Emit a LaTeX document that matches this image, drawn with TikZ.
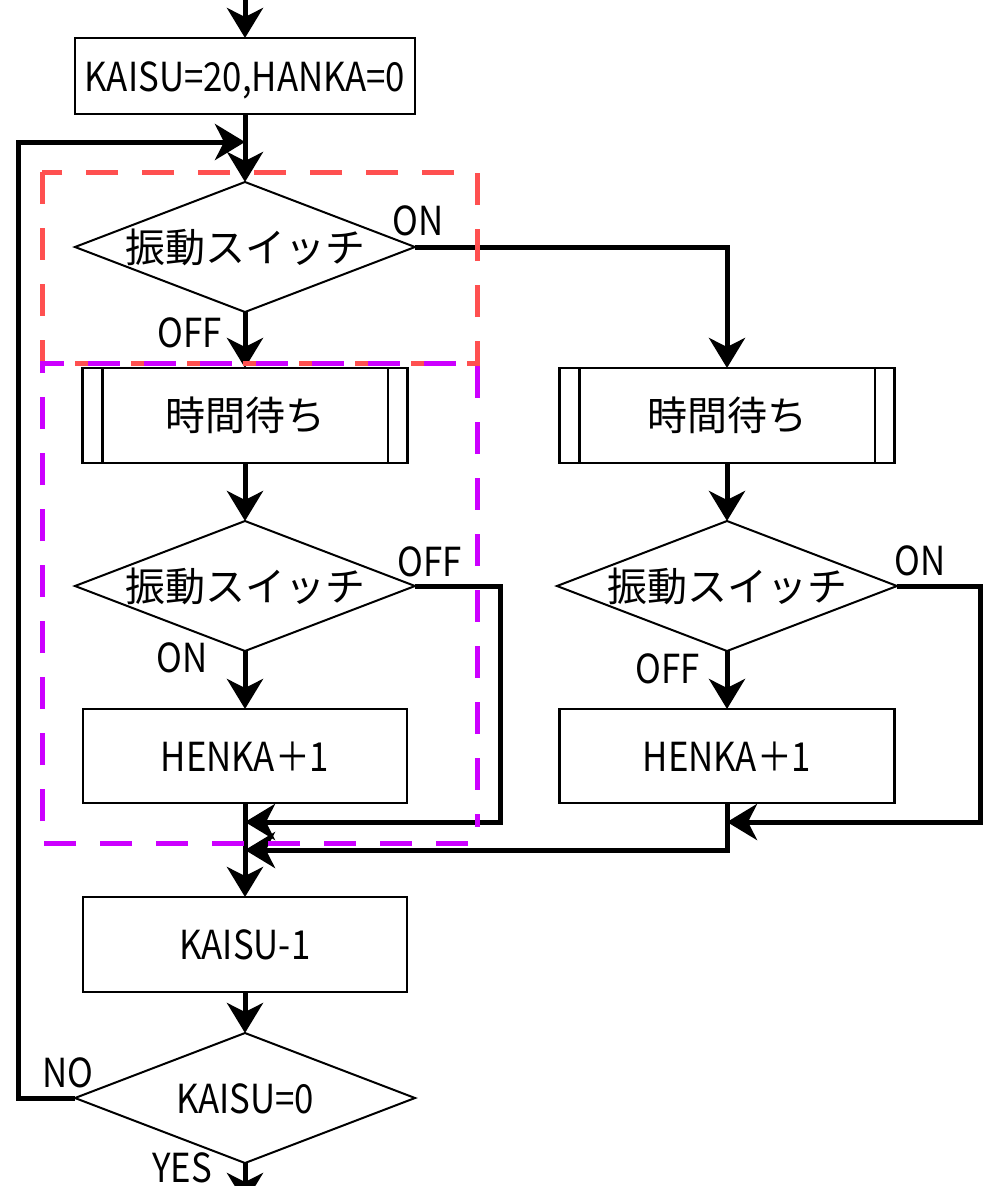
\documentclass[tikz,border=0pt]{standalone}
\usepackage{fontspec}
\setmainfont{Noto Sans CJK JP}
\newfontfamily\latfont{Noto Sans CJK JP}[FakeStretch=0.87]
\usetikzlibrary{calc,arrows.meta,positioning,shapes.geometric}
\definecolor{groupred}{RGB}{255,80,80}
\definecolor{grouppurple}{RGB}{204,0,255}

\begin{document}
\begin{tikzpicture}[x=1pt,y=-1pt,node distance=56pt and 56pt]

\tikzset{flownode/.style={font=\fontsize{40}{44}\selectfont,text height=30pt,text depth=0pt,inner sep=0pt,outer sep=0pt},
procnode/.style={flownode,font=\latfont\fontsize{40}{44}\selectfont,draw,line width=2.5pt,minimum width=324pt,minimum height=94pt},
subnode/.style={flownode,draw,line width=2.5pt,minimum width=325pt,minimum height=95pt},
decnode/.style={flownode,shape=diamond,draw,line width=2pt,aspect=2.6,minimum width=340pt,minimum height=130pt},
branchlabel/.style={flownode,font=\latfont\fontsize{40}{44}\selectfont},
connector/.style={line width=5pt,-{Stealth[length=30pt,width=36pt,inset=9pt]}},
redbox/.style={draw=groupred,line width=5pt,dash pattern=on 32pt off 24pt},
purplebox/.style={draw=grouppurple,line width=5pt,dash pattern=on 32pt off 24pt}}

\fill[white] (0,0) rectangle (985,1186);
\useasboundingbox (0,0) rectangle (985,1186);

% left column
\node (init) [procnode,minimum width=340pt,minimum height=76pt] at (245,76) {KAISU=20,HANKA=0};
\node (dia1) [below=68pt of init,decnode] {振動スイッチ};
\node (wait1) [below=of dia1,subnode] {時間待ち};
\node (dia2) [below=58pt of wait1,decnode] {振動スイッチ};
\node (inc1) [below=58pt of dia2,procnode] {HENKA＋1};
\node (dec) [below=94pt of inc1,procnode,minimum height=95pt] {KAISU-1};
\node (dia4) [below=41pt of dec,decnode,font=\latfont\fontsize{40}{44}\selectfont] {KAISU=0};

% right column
\coordinate (rightCol) at (482,0);
\node[subnode,minimum width=335pt] (wait2) at ($(wait1) + (rightCol)$) {時間待ち};
\node[decnode] (dia3) at ($(dia2) + (rightCol)$) {振動スイッチ};
\node[procnode,minimum width=335pt] (inc2) at ($(inc1) + (rightCol)$) {HENKA＋1};

% side bars of the wait boxes
\foreach \n in {wait1, wait2} \draw[line width=2.5pt] ($(\n.north west) + (20,0)$) -- ($(\n.south west) + (20,0)$);
\foreach \n in {wait1, wait2} \draw[line width=2pt] ($(\n.north east) + (-20,0)$) -- ($(\n.south east) + (-20,0)$);

% junctions
\coordinate (start) at (245,-10);
\coordinate (loopin) at ($(init.south) + (0,28)$);
\coordinate (loopx) at ($(dia4.west) + (-57,0)$);
\coordinate (join1) at ($(inc1.south) + (0,19)$);
\coordinate (join2) at ($(inc1.south) + (0,47)$);
\coordinate (join3) at ($(inc2.south) + (0,19)$);
\coordinate (finish) at ($(dia4.south) + (0,40)$);

% Edges
\draw[connector] (start) -- (init.north);
\draw[connector] (init.south) -- (dia1.north);
\draw[connector] (dia4.west) -- (loopx) |- (loopin);
\draw[connector] (dia1.east) -| (wait2.north);
\draw[connector] (dia1.south) -- (wait1.north);
\draw[connector] (wait1) -- (dia2); \draw[connector] (wait2) -- (dia3);
\draw[connector] (dia2) -- (inc1); \draw[connector] (dia3) -- (inc2);
\draw[connector] (dia2.east) -- ++(85,0) |- (join1);
\draw[connector] (dia3.east) -- ++(83,0) |- (join3);
\draw[connector] (inc2.south) |- (join2);
\draw[connector] (inc1) -- (dec);
\draw[connector] (dec) -- (dia4);
\draw[connector] (dia4.south) -- (finish);

% branch labels
\node[branchlabel] (on1) at ($(dia1.east) + (3,-27)$) {ON};
\node[branchlabel] (off1) at ($(dia1.south) + (-55,20)$) {OFF};
\node[branchlabel] (off2) at ($(dia2.east) + (15,-25)$) {OFF};
\node[branchlabel] (on2) at ($(dia2.south) + (-63,6)$) {ON};
\node[branchlabel] (on3) at ($(dia3.east) + (23,-26)$) {ON};
\node[branchlabel] (off3) at ($(dia3.south) + (-59,17)$) {OFF};
\node[branchlabel] (no) at ($(dia4.west) + (-7,-26)$) {NO};
\node[branchlabel] (yes) at ($(dia4.south) + (-63,4)$) {YES};

% group frames
\draw[redbox] (42,172) rectangle (477,363);
\draw[purplebox] (468,843) -- (42,843) -- (42,363) -- (477,363) -- (477,827);

\end{tikzpicture}
\end{document}
